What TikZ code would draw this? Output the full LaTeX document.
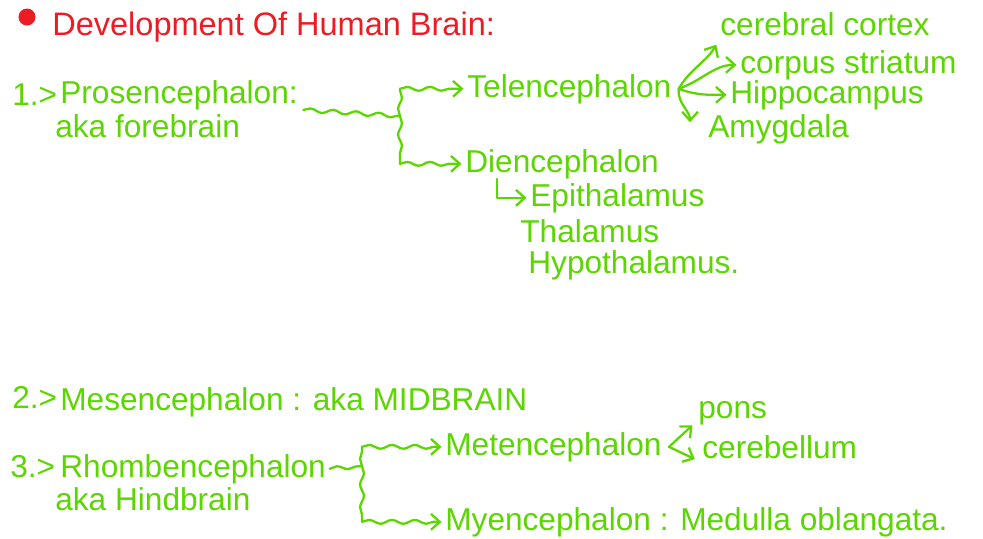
\documentclass[tikz,border=0pt]{standalone}
\usepackage{fontspec}
\setmainfont{Liberation Sans}
\usetikzlibrary{arrows.meta, positioning, calc, decorations.pathmorphing}
\definecolor{myred}{RGB}{237,28,36}
\definecolor{mygreen}{RGB}{92,214,0}
\tikzset{
  heading/.style={anchor=base west, inner sep=0pt, font=\fontsize{18.5}{22}\selectfont, color=myred},
  term/.style={anchor=base west, inner sep=0pt, font=\fontsize{18}{22}\selectfont, color=mygreen},
  arrow/.style={-{Straight Barb[length=5pt,width=9pt]}, line width=1.3pt, color=mygreen,
    line cap=round, line join=round, shorten >=2pt},
  wavy/.style={line width=1.3pt, color=mygreen, line cap=round, decorate,
    decoration={snake, amplitude=1.1pt, segment length=13pt}},
  wavyarrow/.style={wavy, -{Straight Barb[length=5pt,width=9pt]}, shorten >=2pt,
    decoration={snake, amplitude=1.1pt, segment length=13pt, post length=6pt}}
}

\begin{document}
\begin{tikzpicture}[x=0.02cm, y=-0.02cm]
  \useasboundingbox (0,0) rectangle (983,538);
  % title
  \fill[myred] (27,17) circle (8.5);
  \node[heading] (title) at (52,35) {Development Of Human Brain:};
  % 1) forebrain
  \node[term] (n1) at (12,105) {1.>};
  \node[term] (pros) at (60,103) {Prosencephalon:};
  \node[term] (prosaka) at (55,137) {aka forebrain};
  \node[term] (tele) at (467,97) {Telencephalon};
  \node[term] (dien) at (465,172) {Diencephalon};
  \node[term] (cortex) at (720,35) {cerebral cortex};
  \node[term] (corpus) at (740,73) {corpus striatum};
  \node[term] (hippo) at (730,103) {Hippocampus};
  \node[term] (amyg) at (708,137) {Amygdala};
  \node[term] (epi) at (530,206) {Epithalamus};
  \node[term] (thal) at (520,242) {Thalamus};
  \node[term] (hypo) at (528,273) {Hypothalamus.};
  \coordinate (b1) at (400,116);
  \draw[wavy] ([xshift=3pt]pros.south east) -- (b1);
  \draw[wavy] (b1) -- (b1 |- tele.west);
  \draw[wavyarrow] (b1 |- tele.west) -- (tele.west);
  \draw[wavy] (b1) -- (b1 |- dien.west);
  \draw[wavyarrow] (b1 |- dien.west) -- (dien.west);
  % telencephalon fan
  \coordinate (fan1) at ([xshift=4pt]tele.east);
  \draw[arrow] (fan1) to[out=60, in=-120] ($(cortex.south west)+(-2,6)$);
  \draw[arrow] (fan1) to[out=20, in=180] (corpus.west);
  \draw[arrow] (fan1) to[out=-20, in=180] (hippo.west);
  \draw[arrow] (fan1) to[out=-95, in=90] ($(amyg.north west)+(-18,12)$);
  \draw[arrow] ($(dien.south west)+(32,0)$) |- (epi.west);
  % 2) midbrain
  \node[term] (n2) at (12,408) {2.>};
  \node[term] (meso) at (60,410) {Mesencephalon : aka MIDBRAIN};
  % 3) hindbrain
  \node[term] (n3) at (10,477) {3.>};
  \node[term] (rhomb) at (60,477) {Rhombencephalon};
  \node[term] (rhombaka) at (55,510) {aka Hindbrain};
  \node[term] (meten) at (445,455) {Metencephalon};
  \node[term] (myen) at (445,530) {Myencephalon : Medulla oblangata.};
  \node[term] (pons) at (698,418) {pons};
  \node[term] (cereb) at (702,458) {cerebellum};
  \coordinate (b3) at (362,466);
  \draw[wavy] ([xshift=2pt]rhomb.east) -- (b3);
  \draw[wavy] (b3) -- (b3 |- meten.west);
  \draw[wavyarrow] (b3 |- meten.west) -- (meten.west);
  \draw[wavy] (b3) -- (b3 |- myen.west);
  \draw[wavyarrow] (b3 |- myen.west) -- (myen.west);
  \coordinate (fan3) at ([xshift=4pt]meten.east);
  \draw[arrow] (fan3) -- ($(pons.south west)+(-3,-2)$);
  \draw[arrow] (fan3) -- ($(cereb.south west)+(-4,2)$);
\end{tikzpicture}
\end{document}
